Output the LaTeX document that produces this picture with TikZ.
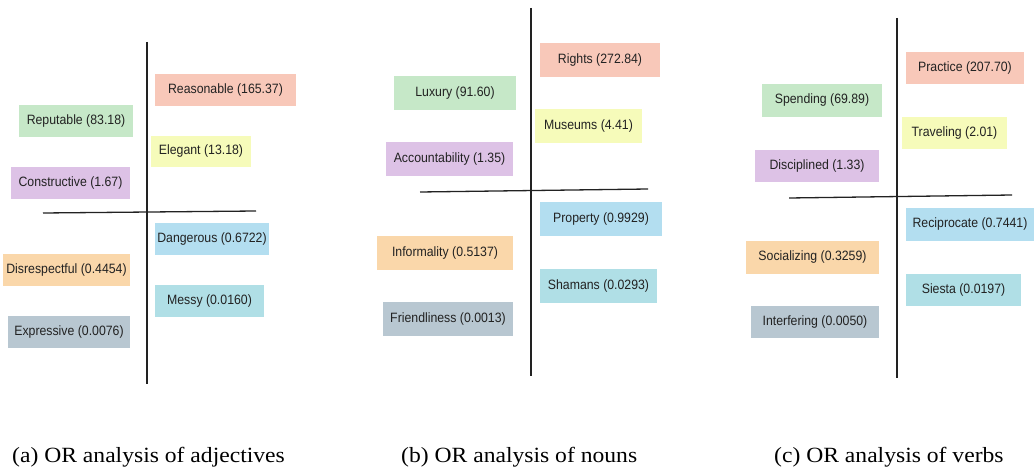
\documentclass[tikz,border=0pt]{standalone}
\usepackage{fontspec}
\setmainfont{Liberation Serif}
\newfontfamily\boxfont{Liberation Sans}
\definecolor{cSalmon}{HTML}{F8C8B9}
\definecolor{cGreen}{HTML}{C6E8C8}
\definecolor{cYellow}{HTML}{F6FBBA}
\definecolor{cPurple}{HTML}{DDC2E6}
\definecolor{cBlue}{HTML}{B3DEF0}
\definecolor{cOrange}{HTML}{FAD7AA}
\definecolor{cCyan}{HTML}{B0DFE6}
\definecolor{cGrey}{HTML}{B8C7D1}
\definecolor{txt}{HTML}{222222}
\tikzset{
  wbox/.style={inner sep=0pt, outer sep=0pt, text=txt,
    font=\boxfont\fontsize{12.3}{14}\selectfont},
  axis/.style={draw=txt, line width=1.3pt},
  capt/.style={anchor=base west, inner sep=0pt, text=black,
    font=\fontsize{23.6}{26}\selectfont},
}
\newcommand{\wb}[7]{\node[wbox, fill=#1, minimum width=#4pt, minimum height=#5pt] (#2) at (#3) {\scalebox{1}[1.1]{#6 (#7)}};}
\begin{document}
\begin{tikzpicture}[x=1pt,y=-1pt]
\useasboundingbox[fill=white] (0,0) rectangle (1035,470);
% ---------- (a) ----------
\coordinate (aT) at (147,42); \coordinate (aB) at (147,384);
\coordinate (aL) at (43,213); \coordinate (aR) at (256,211);
\draw[axis] (aT) -- (aB);
\draw[axis] (aL) -- (aR);
\wb{cSalmon}{aRea}{225.5,90}{141}{32}{Reasonable}{165.37}
\wb{cGreen}{aRep}{76,121}{114}{32}{Reputable}{83.18}
\wb{cYellow}{aEle}{201,151.5}{100}{31}{Elegant}{13.18}
\wb{cPurple}{aCon}{70.5,183}{119}{32}{Constructive}{1.67}
\wb{cBlue}{aDan}{212,239}{114}{32}{Dangerous}{0.6722}
\wb{cOrange}{aDis}{66.5,270}{127}{32}{Disrespectful}{0.4454}
\wb{cCyan}{aMes}{209.5,301}{109}{32}{Messy}{0.0160}
\wb{cGrey}{aExp}{69,332}{122}{32}{Expressive}{0.0076}
% ---------- (b) ----------
\coordinate (bT) at (531,8); \coordinate (bB) at (531,376);
\coordinate (bL) at (420,192); \coordinate (bR) at (648,189);
\draw[axis] (bT) -- (bB);
\draw[axis] (bL) -- (bR);
\wb{cSalmon}{bRig}{600,60}{120}{34}{Rights}{272.84}
\wb{cGreen}{bLux}{455,93}{122}{34}{Luxury}{91.60}
\wb{cYellow}{bMus}{588.5,126}{107}{34}{Museums}{4.41}
\wb{cPurple}{bAcc}{449.5,159}{127}{34}{Accountability}{1.35}
\wb{cBlue}{bPro}{601,219}{122}{34}{Property}{0.9929}
\wb{cOrange}{bInf}{445,253}{136}{34}{Informality}{0.5137}
\wb{cCyan}{bSha}{598.5,286}{117}{34}{Shamans}{0.0293}
\wb{cGrey}{bFri}{448,319}{130}{34}{Friendliness}{0.0013}
% ---------- (c) ----------
\coordinate (cT) at (897,18); \coordinate (cB) at (897,378);
\coordinate (cL) at (789,198); \coordinate (cR) at (1012,195);
\draw[axis] (cT) -- (cB);
\draw[axis] (cL) -- (cR);
\wb{cSalmon}{cPra}{965,68}{118}{32}{Practice}{207.70}
\wb{cGreen}{cSpe}{822,100.5}{120}{33}{Spending}{69.89}
\wb{cYellow}{cTra}{954.5,133}{105}{32}{Traveling}{2.01}
\wb{cPurple}{cDis}{817,166}{124}{32}{Disciplined}{1.33}
\wb{cBlue}{cRec}{970,224.5}{128}{33}{Reciprocate}{0.7441}
\wb{cOrange}{cSoc}{812.5,257.5}{133}{33}{Socializing}{0.3259}
\wb{cCyan}{cSie}{963.5,290}{115}{32}{Siesta}{0.0197}
\wb{cGrey}{cInt}{815,322}{128}{32}{Interfering}{0.0050}
% ---------- captions ----------
\node[capt] (capA) at (12,462) {\scalebox{1}[0.92]{(a) OR analysis of adjectives}};
\node[capt] (capB) at (401,462) {\scalebox{1}[0.92]{(b) OR analysis of nouns}};
\node[capt] (capC) at (774,462) {\scalebox{1}[0.92]{(c) OR analysis of verbs}};
\end{tikzpicture}
\end{document}
